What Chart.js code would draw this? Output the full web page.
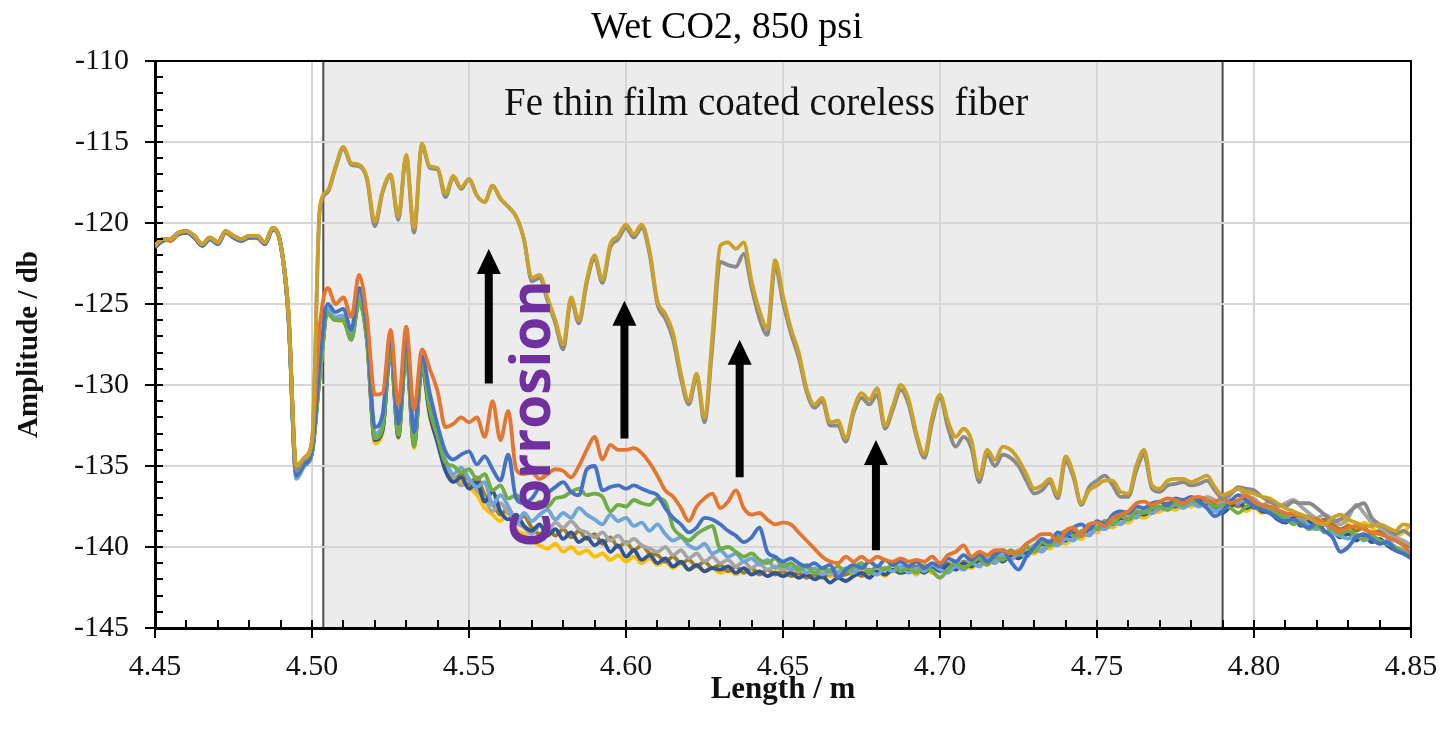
<!DOCTYPE html>
<html>
<head>
<meta charset="utf-8">
<title>Wet CO2, 850 psi</title>
<script src="https://cdn.jsdelivr.net/npm/chart.js@4/dist/chart.umd.min.js"></script>
<style>
  html, body { margin: 0; padding: 0; background: #fff; }
  #wrap { width: 1439px; height: 731px; }
</style>
</head>
<body>
<div id="wrap"><canvas id="ofdrChart" width="1439" height="731"></canvas></div>
<script>
// ===============================
// DATA
// ===============================
const lengthM = [
  4.45,4.4525,4.455,4.4575,4.46,4.4625,4.465,4.4675,
  4.47,4.4725,4.475,4.4775,4.48,4.4825,4.485,4.4875,
  4.49,4.4925,4.495,4.4975,4.5,4.5025,4.505,4.5075,
  4.51,4.5125,4.515,4.5175,4.52,4.5225,4.525,4.5275,
  4.53,4.5325,4.535,4.5375,4.54,4.5425,4.545,4.5475,
  4.55,4.5525,4.555,4.5575,4.56,4.5625,4.565,4.5675,
  4.57,4.5725,4.575,4.5775,4.58,4.5825,4.585,4.5875,
  4.59,4.5925,4.595,4.5975,4.6,4.6025,4.605,4.6075,
  4.61,4.6125,4.615,4.6175,4.62,4.6225,4.625,4.6275,
  4.63,4.6325,4.635,4.6375,4.64,4.6425,4.645,4.6475,
  4.65,4.6525,4.655,4.6575,4.66,4.6625,4.665,4.6675,
  4.67,4.6725,4.675,4.6775,4.68,4.6825,4.685,4.6875,
  4.69,4.6925,4.695,4.6975,4.7,4.7025,4.705,4.7075,
  4.71,4.7125,4.715,4.7175,4.72,4.7225,4.725,4.7275,
  4.73,4.7325,4.735,4.7375,4.74,4.7425,4.745,4.7475,
  4.75,4.7525,4.755,4.7575,4.76,4.7625,4.765,4.7675,
  4.77,4.7725,4.775,4.7775,4.78,4.7825,4.785,4.7875,
  4.79,4.7925,4.795,4.7975,4.8,4.8025,4.805,4.8075,
  4.81,4.8125,4.815,4.8175,4.82,4.8225,4.825,4.8275,
  4.83,4.8325,4.835,4.8375,4.84,4.8425,4.845,4.8475,
  4.85
];

// corroded traces (top group)
const goldTrace = [
  -121.4,-121.0,-121.0,-120.6,-120.5,-120.8,-121.3,-120.9,
  -121.2,-120.5,-120.8,-121.0,-120.8,-120.8,-121.2,-120.3,
  -121.3,-125.5,-135.0,-134.5,-133.5,-119.0,-118.0,-116.5,
  -115.3,-116.3,-116.4,-117.2,-119.9,-118.0,-117.0,-119.6,
  -115.8,-120.3,-115.1,-116.5,-116.6,-118.2,-117.1,-117.8,
  -117.3,-118.3,-118.7,-117.7,-118.5,-119.0,-119.6,-121.0,
  -123.4,-123.2,-124.6,-126.0,-127.5,-124.6,-126.0,-123.5,
  -122.0,-123.5,-121.3,-120.8,-120.1,-120.7,-120.1,-121.7,
  -124.8,-125.6,-126.8,-129.3,-131.0,-129.3,-132.0,-127.0,
  -121.4,-121.2,-121.6,-121.2,-123.6,-125.4,-126.5,-122.3,
  -124.5,-126.5,-128.0,-130.2,-131.2,-130.8,-132.3,-132.2,
  -133.3,-131.5,-130.5,-130.9,-130.2,-132.5,-131.3,-130.0,
  -130.9,-133.0,-134.3,-132.0,-130.6,-132.2,-133.2,-132.7,
  -133.4,-135.7,-134.0,-134.6,-133.8,-134.0,-134.6,-135.5,
  -136.4,-136.2,-135.8,-136.8,-134.4,-135.5,-137.3,-136.5,
  -136.2,-135.9,-135.9,-136.6,-136.7,-135.0,-134.0,-136.2,
  -136.4,-135.9,-135.8,-135.8,-136.0,-135.8,-135.6,-136.3,
  -136.8,-136.6,-136.4,-136.6,-136.7,-136.9,-137.0,-137.3,
  -137.6,-137.8,-138.0,-138.2,-138.5,-138.6,-138.2,-138.0,
  -138.3,-138.5,-138.7,-138.7,-138.6,-138.8,-139.0,-138.6,
  -138.7
];
const grayTopTrace = [
  -121.4,-121.0,-121.0,-120.6,-120.5,-120.8,-121.3,-120.9,
  -121.2,-120.5,-120.8,-121.0,-120.8,-120.8,-121.2,-120.3,
  -121.3,-125.6,-135.3,-134.6,-133.6,-119.2,-118.1,-116.6,
  -115.4,-116.4,-116.5,-117.3,-120.2,-118.1,-117.1,-119.8,
  -115.9,-120.6,-115.2,-116.6,-116.7,-118.4,-117.2,-117.9,
  -117.3,-118.3,-118.7,-117.7,-118.5,-119.0,-119.6,-121.0,
  -123.6,-123.4,-124.8,-126.2,-127.8,-124.8,-126.2,-123.7,
  -122.2,-123.7,-121.5,-121.0,-120.3,-120.9,-120.3,-121.9,
  -125.0,-125.9,-127.2,-129.6,-131.2,-129.5,-132.3,-127.6,
  -122.4,-122.6,-122.7,-121.9,-124.0,-125.9,-126.9,-122.7,
  -124.9,-126.8,-128.3,-130.4,-131.4,-131.0,-132.5,-132.5,
  -133.5,-131.7,-130.8,-131.2,-130.6,-132.7,-131.5,-130.3,
  -131.2,-133.2,-134.5,-132.3,-130.8,-132.6,-133.8,-133.2,
  -133.9,-136.0,-134.3,-135.0,-134.3,-134.5,-135.0,-135.9,
  -136.7,-136.5,-136.0,-137.0,-134.7,-135.7,-137.4,-136.3,
  -135.9,-135.6,-136.2,-136.9,-136.9,-135.3,-134.3,-136.4,
  -136.6,-136.2,-136.1,-136.0,-136.2,-136.1,-135.9,-136.5,
  -137.0,-136.7,-136.3,-136.4,-136.5,-136.9,-137.2,-137.4,
  -137.5,-137.2,-137.3,-137.3,-137.6,-138.0,-138.4,-138.3,
  -137.9,-137.5,-137.3,-138.2,-138.6,-138.9,-139.2,-139.0,
  -139.3
];

// earlier traces (bottom group)
const orangeTrace = [
  -121.4,-121.0,-121.1,-120.6,-120.5,-120.8,-121.3,-120.9,
  -121.2,-120.6,-120.8,-121.0,-120.8,-120.8,-121.2,-120.3,
  -121.3,-125.4,-135.0,-134.5,-133.4,-126.3,-124.0,-125.0,
  -124.6,-125.8,-123.2,-125.8,-130.6,-130.5,-126.6,-131.2,
  -126.4,-131.5,-127.8,-129.0,-130.4,-132.6,-132.4,-132.0,
  -132.3,-132.0,-133.2,-131.0,-133.4,-131.6,-135.2,-135.5,
  -135.4,-135.8,-135.5,-135.2,-135.3,-135.7,-135.0,-134.0,
  -133.2,-134.6,-133.7,-134.0,-134.0,-133.9,-134.2,-134.8,
  -135.6,-136.5,-136.9,-137.6,-138.4,-137.5,-137.0,-136.7,
  -137.6,-137.2,-136.5,-137.6,-138.0,-137.9,-138.3,-138.6,
  -138.5,-138.6,-139.1,-139.6,-140.1,-140.6,-140.9,-141.0,
  -140.6,-140.9,-140.6,-140.9,-140.6,-140.8,-140.9,-140.7,
  -140.9,-140.8,-140.9,-140.6,-141.0,-140.5,-140.3,-139.9,
  -140.6,-140.3,-140.5,-140.2,-140.2,-140.4,-140.3,-139.8,
  -139.5,-139.2,-139.2,-139.7,-139.0,-138.8,-139.3,-138.6,
  -138.5,-138.7,-138.2,-138.0,-137.8,-137.3,-137.2,-137.4,
  -137.2,-137.0,-137.1,-137.3,-137.0,-136.9,-137.1,-137.2,
  -137.0,-137.3,-137.1,-136.8,-137.2,-137.4,-137.5,-137.7,
  -137.9,-138.0,-138.1,-138.2,-138.3,-138.5,-138.8,-139.0,
  -138.8,-138.7,-138.9,-139.1,-139.2,-139.4,-139.6,-139.9,
  -140.4
];
const blueTrace = [
  -121.5,-121.1,-121.0,-120.7,-120.6,-120.9,-121.4,-121.0,
  -121.3,-120.6,-120.9,-121.1,-120.9,-120.9,-121.3,-120.4,
  -121.3,-125.7,-135.6,-134.9,-134.0,-128.5,-125.0,-125.5,
  -125.3,-126.6,-124.0,-126.5,-132.6,-131.8,-127.0,-132.4,
  -127.0,-132.9,-128.2,-130.5,-132.5,-134.1,-134.6,-134.3,
  -134.1,-134.9,-134.4,-135.2,-135.9,-134.3,-137.0,-137.3,
  -137.0,-136.4,-136.6,-136.3,-136.0,-136.6,-136.8,-135.2,
  -135.0,-136.5,-136.3,-136.2,-136.4,-136.2,-136.4,-136.6,
  -136.8,-137.6,-138.2,-138.6,-139.1,-138.8,-138.2,-138.3,
  -138.6,-139.0,-139.3,-139.7,-139.4,-138.8,-140.3,-140.6,
  -140.9,-140.7,-141.0,-141.2,-141.0,-141.3,-141.1,-141.9,
  -141.4,-141.1,-141.3,-140.9,-141.2,-140.8,-141.1,-140.9,
  -141.2,-140.9,-141.3,-141.0,-141.2,-140.7,-140.9,-140.5,
  -140.8,-140.4,-140.9,-140.5,-140.2,-140.9,-141.4,-140.6,
  -140.0,-139.5,-139.7,-139.1,-139.3,-138.8,-138.6,-138.9,
  -138.4,-138.6,-138.0,-137.8,-137.9,-137.5,-137.6,-137.3,
  -137.2,-137.4,-137.0,-137.1,-136.9,-137.2,-137.6,-138.1,
  -137.8,-137.2,-136.8,-137.1,-137.5,-137.7,-137.9,-138.2,
  -138.4,-138.3,-138.6,-138.8,-138.5,-139.0,-139.4,-140.3,
  -140.0,-139.4,-139.2,-139.5,-139.8,-139.7,-140.2,-140.4,
  -140.7
];
const greenTrace = [
  -121.4,-121.1,-121.0,-120.7,-120.5,-120.9,-121.3,-120.9,
  -121.2,-120.6,-120.9,-121.0,-120.9,-120.8,-121.2,-120.4,
  -121.3,-125.9,-135.4,-134.9,-134.2,-129.5,-125.6,-126.0,
  -126.0,-127.2,-124.8,-127.3,-133.3,-132.6,-127.8,-133.1,
  -128.0,-133.8,-128.8,-131.5,-133.2,-134.8,-135.0,-135.4,
  -135.2,-135.8,-135.5,-136.5,-136.2,-137.0,-136.8,-137.3,
  -137.6,-137.2,-137.5,-137.0,-136.9,-136.6,-136.4,-136.8,
  -136.7,-136.9,-137.8,-137.4,-137.5,-137.1,-137.3,-137.4,
  -137.0,-137.2,-138.8,-139.3,-139.6,-139.2,-138.9,-138.7,
  -140.1,-140.0,-140.3,-140.6,-140.4,-140.8,-141.0,-140.7,
  -141.2,-141.0,-141.4,-141.1,-141.6,-141.3,-141.5,-141.2,
  -141.5,-141.3,-141.0,-141.6,-141.2,-141.4,-141.1,-141.5,
  -141.3,-141.6,-141.2,-141.5,-141.9,-141.4,-141.0,-141.3,
  -141.0,-140.7,-141.1,-140.6,-140.8,-140.2,-140.5,-140.0,
  -140.3,-139.7,-139.9,-139.4,-139.0,-139.3,-139.1,-138.6,
  -138.9,-138.4,-138.6,-138.1,-138.3,-137.8,-137.9,-137.6,
  -137.5,-137.7,-137.3,-137.4,-137.1,-137.3,-137.2,-137.5,
  -137.4,-137.6,-137.9,-137.5,-137.3,-137.6,-137.8,-138.0,
  -138.2,-138.6,-138.4,-138.9,-138.7,-139.1,-138.9,-139.2,
  -139.0,-139.3,-139.5,-139.3,-139.6,-139.8,-140.0,-140.3,
  -140.6
];
const lightBlueTrace = [
  -121.5,-121.0,-121.1,-120.7,-120.6,-120.8,-121.4,-121.0,
  -121.3,-120.6,-120.8,-121.1,-120.9,-120.8,-121.3,-120.4,
  -121.3,-125.8,-135.8,-135.0,-134.1,-129.2,-125.3,-125.8,
  -125.7,-126.9,-124.4,-126.9,-133.0,-132.3,-127.4,-132.8,
  -127.4,-133.3,-128.4,-131.2,-133.0,-134.6,-135.5,-135.1,
  -135.8,-136.3,-136.0,-137.4,-136.8,-137.5,-138.6,-137.9,
  -138.4,-138.0,-137.7,-138.3,-137.9,-138.2,-137.6,-138.0,
  -138.3,-138.6,-138.0,-138.4,-138.2,-138.7,-138.5,-139.0,
  -138.6,-139.2,-139.6,-139.4,-139.9,-140.1,-139.8,-140.4,
  -140.2,-140.6,-140.4,-140.9,-140.7,-141.1,-140.8,-141.3,
  -141.0,-141.4,-141.2,-141.6,-141.3,-141.7,-141.4,-141.6,
  -141.3,-141.6,-141.2,-141.5,-141.7,-141.3,-141.5,-141.2,
  -141.6,-141.3,-141.5,-141.1,-141.4,-141.6,-141.2,-141.4,
  -141.0,-141.2,-140.8,-141.0,-140.5,-140.8,-140.4,-140.6,
  -140.1,-140.3,-139.8,-139.9,-139.5,-139.6,-139.1,-139.3,
  -138.8,-138.9,-138.5,-138.6,-138.2,-138.1,-137.8,-137.9,
  -137.6,-137.7,-137.4,-137.6,-137.3,-137.5,-137.2,-137.8,
  -137.5,-137.1,-137.3,-137.0,-137.3,-137.5,-137.7,-138.0,
  -138.1,-138.4,-138.2,-138.7,-138.9,-138.6,-139.1,-139.3,
  -139.5,-139.2,-139.6,-139.4,-139.8,-139.6,-140.0,-140.2,
  -140.4
];
const yellowTrace = [
  -121.4,-121.0,-121.0,-120.6,-120.5,-120.8,-121.3,-120.9,
  -121.2,-120.5,-120.8,-121.0,-120.8,-120.8,-121.2,-120.3,
  -121.3,-125.6,-135.3,-134.7,-134.0,-129.4,-125.5,-126.0,
  -126.1,-127.0,-125.0,-127.2,-133.6,-132.9,-127.8,-133.3,
  -128.0,-133.9,-129.0,-132.0,-133.5,-135.2,-135.8,-136.0,
  -136.3,-136.8,-137.6,-138.0,-138.4,-137.8,-138.9,-139.2,
  -139.6,-139.9,-140.1,-139.8,-140.3,-140.0,-140.4,-140.2,
  -140.6,-140.4,-140.8,-140.5,-140.9,-140.6,-141.0,-140.7,
  -141.1,-140.9,-141.3,-141.0,-141.4,-141.2,-141.5,-141.3,
  -141.6,-141.4,-141.7,-141.3,-141.6,-141.5,-141.8,-141.5,
  -141.7,-141.5,-141.8,-141.6,-141.9,-141.6,-141.8,-141.7,
  -141.5,-141.8,-141.4,-141.7,-141.5,-141.8,-141.4,-141.6,
  -141.4,-141.7,-141.3,-141.6,-141.2,-141.5,-141.3,-141.1,
  -141.3,-140.9,-141.1,-140.7,-140.9,-140.5,-140.7,-140.3,
  -140.4,-140.0,-140.1,-139.7,-139.8,-139.4,-139.5,-139.0,
  -139.1,-138.7,-138.8,-138.4,-138.5,-138.1,-138.2,-137.9,
  -137.8,-137.6,-137.7,-137.4,-137.5,-137.3,-137.5,-137.2,
  -137.4,-137.6,-137.3,-137.8,-137.5,-137.9,-137.6,-138.1,
  -138.3,-138.0,-138.5,-138.2,-138.6,-138.4,-138.7,-138.3,
  -138.6,-138.9,-138.5,-138.8,-139.2,-139.0,-139.3,-139.1,
  -138.6
];
const grayTrace = [
  -121.4,-121.1,-121.0,-120.6,-120.6,-120.8,-121.3,-121.0,
  -121.2,-120.6,-120.8,-121.0,-120.9,-120.8,-121.2,-120.4,
  -121.3,-125.7,-135.4,-134.8,-134.1,-129.0,-125.4,-125.9,
  -125.9,-127.1,-124.6,-127.0,-133.2,-132.5,-127.6,-132.9,
  -127.6,-133.5,-128.7,-131.6,-133.3,-135.0,-135.6,-136.2,
  -135.9,-136.5,-137.0,-137.8,-137.3,-137.9,-138.5,-138.8,
  -139.2,-138.7,-139.0,-138.5,-138.8,-138.4,-138.9,-139.1,
  -139.4,-139.1,-139.6,-139.3,-139.8,-139.5,-139.9,-140.1,
  -140.3,-140.0,-140.5,-140.2,-140.7,-140.4,-140.9,-140.6,
  -141.0,-140.8,-141.2,-140.9,-141.3,-141.0,-141.4,-141.2,
  -141.4,-141.2,-141.5,-141.3,-141.6,-141.4,-141.7,-141.5,
  -141.4,-141.6,-141.3,-141.5,-141.2,-141.4,-141.1,-141.3,
  -141.2,-141.4,-141.1,-141.3,-141.0,-141.2,-140.9,-141.0,
  -140.8,-141.0,-140.6,-140.8,-140.4,-140.6,-140.2,-140.3,
  -139.9,-140.1,-139.6,-139.8,-139.3,-139.4,-139.0,-139.1,
  -138.7,-138.8,-138.4,-138.5,-138.1,-138.2,-137.8,-137.9,
  -137.5,-137.6,-137.3,-137.4,-137.1,-137.2,-136.9,-137.1,
  -137.3,-136.8,-136.4,-136.9,-137.0,-137.4,-137.2,-137.5,
  -137.3,-137.1,-137.5,-137.9,-138.2,-138.0,-138.3,-138.6,
  -138.2,-137.4,-137.9,-138.5,-138.8,-139.1,-139.4,-139.6,
  -139.9
];
const darkBlueTrace = [
  -121.5,-121.1,-121.0,-120.7,-120.6,-120.9,-121.4,-121.0,
  -121.3,-120.6,-120.9,-121.1,-120.9,-120.9,-121.3,-120.4,
  -121.3,-125.8,-135.7,-135.0,-134.2,-129.3,-125.6,-126.0,
  -126.0,-127.2,-124.8,-127.2,-133.4,-132.8,-127.9,-133.2,
  -127.9,-133.7,-128.9,-131.8,-133.6,-135.3,-136.0,-135.7,
  -136.4,-136.0,-137.2,-136.6,-137.8,-138.3,-138.0,-138.7,
  -139.0,-138.6,-139.3,-138.9,-139.5,-139.1,-139.7,-139.4,
  -139.9,-139.6,-140.3,-139.9,-140.6,-140.2,-140.8,-140.5,
  -141.0,-140.7,-141.2,-140.9,-141.4,-141.1,-141.5,-141.3,
  -141.4,-141.2,-141.6,-141.3,-141.7,-141.5,-141.8,-141.6,
  -141.8,-141.6,-141.9,-141.7,-142.0,-141.8,-142.2,-141.9,
  -142.1,-141.8,-141.6,-141.9,-141.5,-141.7,-141.4,-141.6,
  -141.5,-141.3,-141.6,-141.2,-141.5,-141.1,-141.4,-141.0,
  -141.2,-140.8,-141.0,-140.6,-140.9,-140.5,-140.7,-140.4,
  -140.2,-139.8,-139.9,-139.5,-139.6,-139.2,-139.3,-138.9,
  -138.9,-138.5,-138.6,-138.2,-138.3,-137.9,-138.0,-137.7,
  -137.6,-137.4,-137.5,-137.2,-137.3,-137.1,-137.3,-137.5,
  -137.9,-137.5,-137.2,-137.6,-137.4,-137.8,-137.9,-138.3,
  -138.5,-138.2,-138.7,-138.4,-138.9,-138.6,-139.0,-139.4,
  -139.2,-139.6,-139.3,-139.7,-139.5,-139.9,-140.2,-140.4,
  -140.6
];
const darkGoldTrace = [
  -121.4,-121.0,-121.0,-120.6,-120.5,-120.8,-121.3,-120.9,
  -121.2,-120.5,-120.8,-121.0,-120.8,-120.8,-121.2,-120.3,
  -121.3,-125.6,-135.2,-134.7,-133.9,-129.1,-125.5,-125.9,
  -125.8,-127.0,-124.7,-127.1,-133.3,-132.7,-127.7,-133.0,
  -127.7,-133.6,-128.6,-131.7,-133.4,-135.1,-135.9,-135.5,
  -136.1,-135.7,-136.8,-137.3,-138.0,-137.6,-138.4,-138.1,
  -138.8,-139.2,-138.8,-139.3,-138.9,-139.4,-139.0,-139.5,
  -139.2,-139.8,-139.4,-140.0,-139.7,-140.2,-139.9,-140.4,
  -140.5,-140.9,-140.6,-141.0,-140.8,-141.2,-140.9,-141.3,
  -141.1,-141.5,-141.2,-141.6,-141.3,-141.7,-141.4,-141.7,
  -141.5,-141.8,-141.6,-141.9,-141.7,-141.9,-141.6,-141.8,
  -141.7,-141.5,-141.8,-141.4,-141.6,-141.3,-141.5,-141.2,
  -141.4,-141.2,-141.5,-141.1,-141.3,-141.0,-141.2,-140.9,
  -140.9,-140.6,-140.8,-140.4,-140.6,-140.3,-140.4,-140.0,
  -140.1,-139.7,-139.8,-139.4,-139.5,-139.1,-139.2,-138.8,
  -138.8,-138.4,-138.5,-138.1,-138.2,-137.8,-137.9,-137.6,
  -137.6,-137.3,-137.4,-137.2,-137.3,-137.0,-137.2,-137.4,
  -137.6,-137.3,-137.5,-137.2,-137.6,-137.4,-137.7,-137.9,
  -138.1,-137.9,-138.3,-138.1,-138.5,-138.3,-138.6,-138.9,
  -138.7,-139.0,-138.8,-139.2,-139.0,-139.4,-139.5,-139.8,
  -140.0
];

const xTickValues = [4.45, 4.50, 4.55, 4.60, 4.65, 4.70, 4.75, 4.80, 4.85];
const yTickValues = [-145, -140, -135, -130, -125, -120, -115, -110];

// shaded coated section and annotations
const coatedStart = 4.5036;
const coatedEnd = 4.790;
const arrowX = [4.5563, 4.5995, 4.6362, 4.6796];
const arrowFrom = [-129.9, -133.3, -135.7, -140.2];
const arrowTo = [-121.6, -124.8, -127.2, -133.4];

// series list: first one is drawn on top
const series = [
  { name: "t10", values: goldTrace, color: "#caa22b" },
  { name: "t9", values: grayTopTrace, color: "#8a8a8a" },
  { name: "t8", values: orangeTrace, color: "#e5762f" },
  { name: "t7", values: blueTrace, color: "#4472c4" },
  { name: "t6", values: greenTrace, color: "#70ad47" },
  { name: "t5", values: lightBlueTrace, color: "#6fa5d8" },
  { name: "t4", values: darkBlueTrace, color: "#2f5597" },
  { name: "t3", values: grayTrace, color: "#a5a5a5" },
  { name: "t2", values: darkGoldTrace, color: "#a07d1c" },
  { name: "t1", values: yellowTrace, color: "#ffc000" }
];

series.forEach(s => {
  if (s.values.length !== lengthM.length) {
    throw new Error(s.name + " has " + s.values.length + " values");
  }
});

// ===============================
// OVERLAY PLUGIN (box, ticks, arrows, texts)
// ===============================
const overlay = {
  id: "overlay",
  beforeDraw(chart) {
    const ctx = chart.ctx;
    const a = chart.chartArea;
    const x = chart.scales.x;
    const l = x.getPixelForValue(coatedStart);
    const r = x.getPixelForValue(coatedEnd);
    ctx.save();
    ctx.fillStyle = "#ececec";
    ctx.fillRect(l, a.top, r - l, a.bottom - a.top);
    ctx.strokeStyle = "#4d4d4d";
    ctx.lineWidth = 2;
    ctx.strokeRect(l, a.top, r - l, a.bottom - a.top);
    ctx.restore();
  },
  afterDatasetsDraw(chart) {
    const ctx = chart.ctx;
    const a = chart.chartArea;
    const x = chart.scales.x;
    const y = chart.scales.y;
    ctx.save();

    // top and right frame
    ctx.strokeStyle = "#000";
    ctx.lineWidth = 2;
    ctx.beginPath();
    ctx.moveTo(a.left, a.top);
    ctx.lineTo(a.right, a.top);
    ctx.lineTo(a.right, a.bottom);
    ctx.stroke();

    // minor + inner major ticks
    ctx.lineWidth = 2;
    ctx.beginPath();
    for (let v = -145; v <= -110; v++) {
      const py = Math.round(y.getPixelForValue(v));
      ctx.moveTo(a.left, py);
      ctx.lineTo(a.left + 8, py);
    }
    for (let k = 0; k <= 40; k++) {
      const px = Math.round(x.getPixelForValue(4.45 + k * 0.01));
      ctx.moveTo(px, a.bottom);
      ctx.lineTo(px, a.bottom - 8);
    }
    ctx.stroke();

    // arrows
    ctx.fillStyle = "#000";
    ctx.strokeStyle = "#000";
    for (let i = 0; i < arrowX.length; i++) {
      const px = x.getPixelForValue(arrowX[i]);
      const y0 = y.getPixelForValue(arrowFrom[i]);
      const y1 = y.getPixelForValue(arrowTo[i]);
      ctx.lineWidth = 8;
      ctx.beginPath();
      ctx.moveTo(px, y0);
      ctx.lineTo(px, y1 + 20);
      ctx.stroke();
      ctx.beginPath();
      ctx.moveTo(px, y1);
      ctx.lineTo(px - 12, y1 + 25);
      ctx.lineTo(px + 12, y1 + 25);
      ctx.closePath();
      ctx.fill();
    }

    // annotation text
    ctx.fillStyle = "#111";
    ctx.font = "39px 'Liberation Serif'";
    ctx.textAlign = "center";
    ctx.textBaseline = "middle";
    ctx.fillText("Fe thin film coated coreless  fiber", x.getPixelForValue(4.6446), y.getPixelForValue(-112.7));

    // corrosion label
    ctx.save();
    ctx.translate(x.getPixelForValue(4.5708), y.getPixelForValue(-131.8));
    ctx.rotate(-Math.PI / 2);
    ctx.fillStyle = "#7030a0";
    ctx.font = "bold 55px 'Open Sans'";
    ctx.fillText("Corrosion", 0, 0);
    ctx.restore();

    // chart title
    ctx.fillStyle = "#000";
    ctx.font = "38px 'Liberation Serif'";
    ctx.fillText("Wet CO2, 850 psi", 727, 28);

    ctx.restore();
  }
};

// ===============================
// CHART
// ===============================
const serifTick = { family: "'Liberation Serif', serif", size: 30 };
const serifTitle = { family: "'Liberation Serif', serif", size: 29, weight: "bold" };
const serifTitleX = { family: "'Liberation Serif', serif", size: 31, weight: "bold" };

new Chart(document.getElementById("ofdrChart"), {
  type: "line",
  data: {
    datasets: series.map(s => ({
      label: s.name,
      data: lengthM.map((v, i) => ({ x: v, y: s.values[i] })),
      borderColor: s.color,
      backgroundColor: s.color,
      borderWidth: 3.8,
      pointRadius: 0,
      cubicInterpolationMode: "monotone",
      fill: false
    }))
  },
  options: {
    responsive: false,
    animation: false,
    events: [],
    layout: { padding: { top: 61, right: 28, left: 0, bottom: 0 } },
    plugins: {
      legend: { display: false },
      title: { display: false },
      tooltip: { enabled: false }
    },
    scales: {
      x: {
        type: "linear",
        min: 4.45,
        max: 4.85,
        afterBuildTicks: s => { s.ticks = xTickValues.map(v => ({ value: v })); },
        afterFit: s => { s.height = 103; s.paddingLeft = 0; s.paddingRight = 0; },
        ticks: {
          callback: v => Number(v).toFixed(2),
          font: serifTick,
          color: "#111",
          padding: 11,
          maxRotation: 0,
          autoSkip: false
        },
        grid: { color: "#d6d6d6", lineWidth: 2, tickLength: 10, tickColor: "#000", tickWidth: 2 },
        border: { color: "#000", width: 3 },
        title: { display: true, text: "Length / m", font: serifTitleX, color: "#111", padding: { top: 0, bottom: 22 } }
      },
      y: {
        min: -145,
        max: -110,
        afterBuildTicks: s => { s.ticks = yTickValues.map(v => ({ value: v })); },
        afterFit: s => { s.width = 155; s.paddingTop = 0; s.paddingBottom = 0; },
        ticks: {
          callback: v => String(v),
          font: serifTick,
          color: "#111",
          padding: 16
        },
        grid: { color: "#d6d6d6", lineWidth: 2, tickLength: 10, tickColor: "#000", tickWidth: 2 },
        border: { color: "#000", width: 3 },
        title: { display: true, text: "Amplitude / db", font: serifTitle, color: "#111", padding: { top: 12, bottom: 0 } }
      }
    }
  },
  plugins: [overlay]
});
</script>
</body>
</html>
